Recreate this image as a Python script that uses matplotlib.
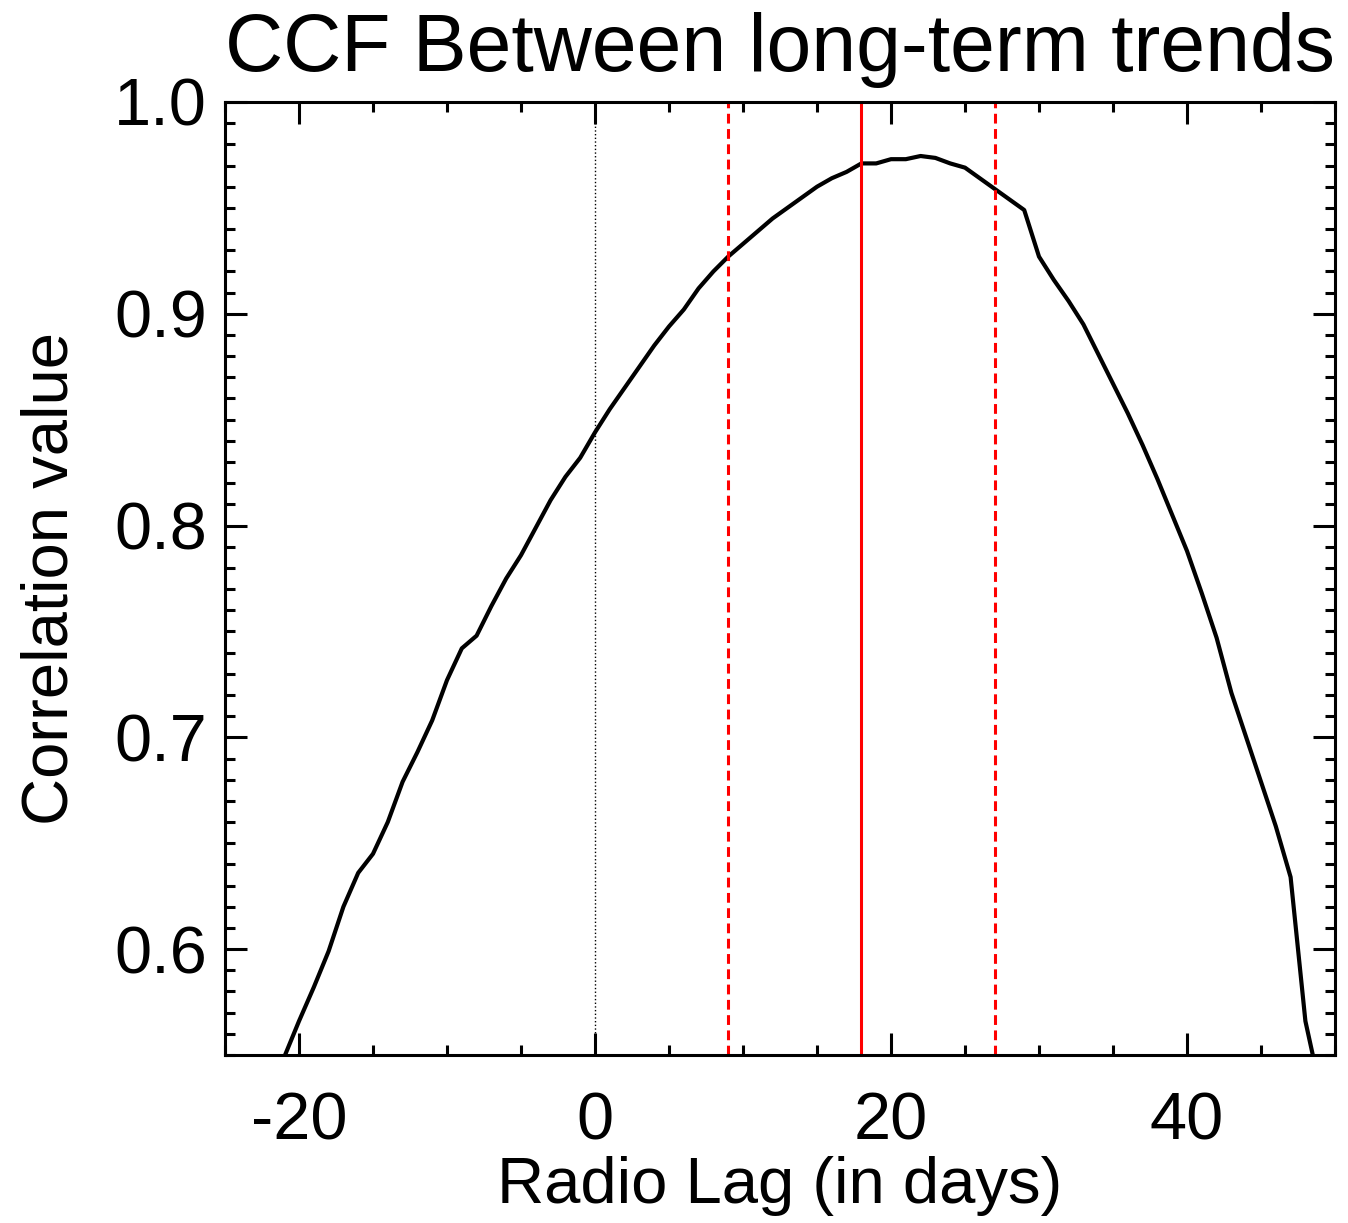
import numpy as np
import matplotlib
matplotlib.use("Agg")
import matplotlib.pyplot as plt
from matplotlib.ticker import MultipleLocator

plt.rcParams['font.family'] = ['Liberation Sans', 'DejaVu Sans']

# lag (days) and correlation values
lags = list(range(-21, 50))
ccf = [0.549, 0.566, 0.582, 0.599, 0.620, 0.636, 0.645, 0.660, 0.679, 0.693,
       0.708, 0.727, 0.742, 0.748, 0.762, 0.775, 0.786, 0.799, 0.812, 0.823,
       0.832, 0.844, 0.855, 0.865, 0.875, 0.885, 0.894, 0.902, 0.912, 0.920,
       0.927, 0.933, 0.939, 0.945, 0.950, 0.955, 0.960, 0.964, 0.967, 0.971,
       0.971, 0.973, 0.973, 0.9745, 0.9736, 0.971, 0.969, 0.964, 0.959, 0.954,
       0.949, 0.927, 0.916, 0.906, 0.895, 0.881, 0.867, 0.853, 0.838, 0.822,
       0.805, 0.788, 0.768, 0.747, 0.721, 0.700, 0.679, 0.658, 0.634, 0.566,
       0.534]

peak_lag = 18
lag_bounds = [9, 27]

fig = plt.figure(figsize=(13.48, 12.23), dpi=100)
ax = fig.add_axes([225/1348, 168/1223, 1110/1348, 953/1223])

ax.axvline(0, color='black', linestyle=':', linewidth=1.0)
ax.plot(lags, ccf, color='black', linewidth=3.0)
ax.axvline(peak_lag, color='red', linewidth=2.2)
for b in lag_bounds:
    ax.axvline(b, color='red', linestyle=(0, (3.2, 1.8)), linewidth=2.2)

ax.set_xlim(-25, 50)
ax.set_ylim(0.55, 1.0)
ax.xaxis.set_major_locator(MultipleLocator(20))
ax.xaxis.set_minor_locator(MultipleLocator(5))
ax.yaxis.set_major_locator(MultipleLocator(0.1))
ax.yaxis.set_minor_locator(MultipleLocator(0.01))
ax.set_xticks([-20, 0, 20, 40])
ax.set_xticklabels(['-20', '0', '20', '40'])
ax.set_yticks([0.6, 0.7, 0.8, 0.9, 1.0])
ax.set_yticklabels(['0.6', '0.7', '0.8', '0.9', '1.0'])

ax.tick_params(which='both', direction='in', top=True, right=True, width=2.2, labelsize=48)
ax.tick_params(which='major', length=16)
ax.tick_params(which='minor', length=7)
ax.tick_params(axis='y', which='major', pad=13)
ax.tick_params(axis='x', which='major', pad=26)
for s in ax.spines.values():
    s.set_linewidth(2.2)

ax.set_xlabel('Radio Lag (in days)', fontsize=47, labelpad=2)
ax.set_ylabel('Correlation value', fontsize=47, labelpad=24)
ax.set_title('CCF Between long-term trends', fontsize=58, pad=22, x=0.5)

fig.savefig('out.png', dpi=100)
